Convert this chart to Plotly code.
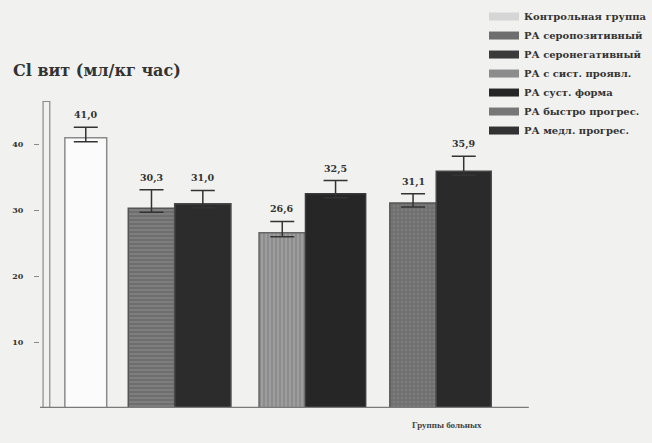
import plotly.graph_objects as go

# ---- data ----
groups = ["Контроль", "Серостатус", "Форма", "Течение"]
series_names = [
    "Контрольная группа",
    "РА серопозитивный",
    "РА серонегативный",
    "РА с сист. проявл.",
    "РА суст. форма",
    "РА быстро прогрес.",
    "РА медл. прогрес.",
]
series_group = ["Контроль", "Серостатус", "Серостатус", "Форма", "Форма", "Течение", "Течение"]
values = [41.0, 30.3, 31.0, 26.6, 32.5, 31.1, 35.9]
errors = [1.6, 2.8, 2.0, 1.7, 2.0, 1.4, 2.3]
y_ticks = [10, 20, 30, 40]

# ---- styles ----
fills = ["#fbfbfb", "#6e6e6e", "#2c2c2c", "#8c8c8c", "#262626", "#707070", "#2a2a2a"]
lines = ["#8a8a8a", "#555555", "#4a4a4a", "#666666", "#3a3a3a", "#555555", "#444444"]
legend_cols = ["#d6d6d6", "#6e6e6e", "#3a3a3a", "#8c8c8c", "#262626", "#777777", "#333333"]
patterns = ["", "-", "", "|", "", ".", ""]
pat_colors = ["#fff", "#9a9a9a", "#444", "#bdbdbd", "#444", "#8a8a8a", "#444"]
offsets = [0.16, -0.355, 0.0, -0.355, 0.0, -0.355, 0.0]
widths = [0.32, 0.355, 0.43, 0.355, 0.46, 0.355, 0.42]

FONT = "Liberation Serif"
WIDE = "DejaVu Serif"
AXIS_TOP = 46.5          # visible top of the value axis column
Y_MAX = 61.9             # plot extends to top of page (legend sits inside)
X_RANGE = [-0.03, 4.642]
BASE_END = 0.80          # fraction of plot width covered by the floor line

fig = go.Figure()
for i, name in enumerate(series_names):
    fig.add_trace(go.Bar(
        x=[series_group[i]], y=[values[i]], name=name, legendgroup=name,
        showlegend=False,
        offset=offsets[i], width=widths[i],
        marker=dict(color=fills[i], line=dict(color=lines[i], width=1.5),
                    pattern=dict(shape=patterns[i], fgcolor=pat_colors[i],
                                 size=4, solidity=0.35)),
        error_y=dict(type="data", symmetric=False, array=[errors[i]],
                     arrayminus=[0.6], color="#333", thickness=1.5,
                     width=12),
    ))
    # legend proxy (wide swatch)
    fig.add_trace(go.Scatter(
        x=[None], y=[None], mode="lines", name=name, legendgroup=name,
        line=dict(color=legend_cols[i], width=8),
    ))
    fig.add_annotation(
        x=series_group[i], y=values[i] + errors[i],
        xshift=(offsets[i] + widths[i] / 2) * 131,
        text="<b>" + f"{values[i]:.1f}".replace(".", ",") + "</b>",
        showarrow=False, yanchor="bottom", yshift=4,
        font=dict(family=WIDE, size=9.5, color="#333"))

# axis titles
fig.add_annotation(xref="paper", yref="paper", x=-0.048, y=0.828,
                   xanchor="left", yanchor="middle", showarrow=False,
                   text="<b>Cl вит (мл/кг час)</b>",
                   font=dict(family=WIDE, size=16, color="#333"))
fig.add_annotation(xref="paper", yref="paper", x=0.727, y=-0.025,
                   xanchor="right", yanchor="top", showarrow=False,
                   text="<b>Группы больных</b>",
                   font=dict(family=FONT, size=9, color="#444"))

# 3D-looking value-axis column and floor line
fig.add_shape(type="rect", xref="x domain", yref="y",
              x0=0.005, x1=0.016, y0=0, y1=AXIS_TOP,
              line=dict(color="#8a8a8a", width=1.2), fillcolor="rgba(0,0,0,0)")
fig.add_shape(type="line", xref="x domain", yref="y",
              x0=0, x1=BASE_END, y0=0, y1=0,
              line=dict(color="#7a7a7a", width=2.5))

fig.update_layout(
    width=652, height=443,
    margin=dict(l=40, r=0, t=0, b=35),
    paper_bgcolor="#f1f1ef", plot_bgcolor="#f1f1ef",
    barmode="overlay",
    showlegend=True,
    legend=dict(x=0.727, y=0.995, xanchor="left", yanchor="top",
                bgcolor="rgba(0,0,0,0)",
                font=dict(family=WIDE, size=10, color="#333", weight="bold"),
                tracegroupgap=0),
    xaxis=dict(type="category", categoryorder="array", categoryarray=groups,
               range=X_RANGE, showticklabels=False, ticks="",
               showline=False, showgrid=False, zeroline=False, automargin=False),
    yaxis=dict(range=[0, Y_MAX], tickvals=y_ticks, ticks="outside", ticklen=5,
               tickcolor="#888", showline=False, showgrid=False, zeroline=False,
               ticklabelstandoff=9, automargin=False,
               tickfont=dict(family=WIDE, size=8, color="#333", weight="bold")),
)

fig.write_html("out.html")
